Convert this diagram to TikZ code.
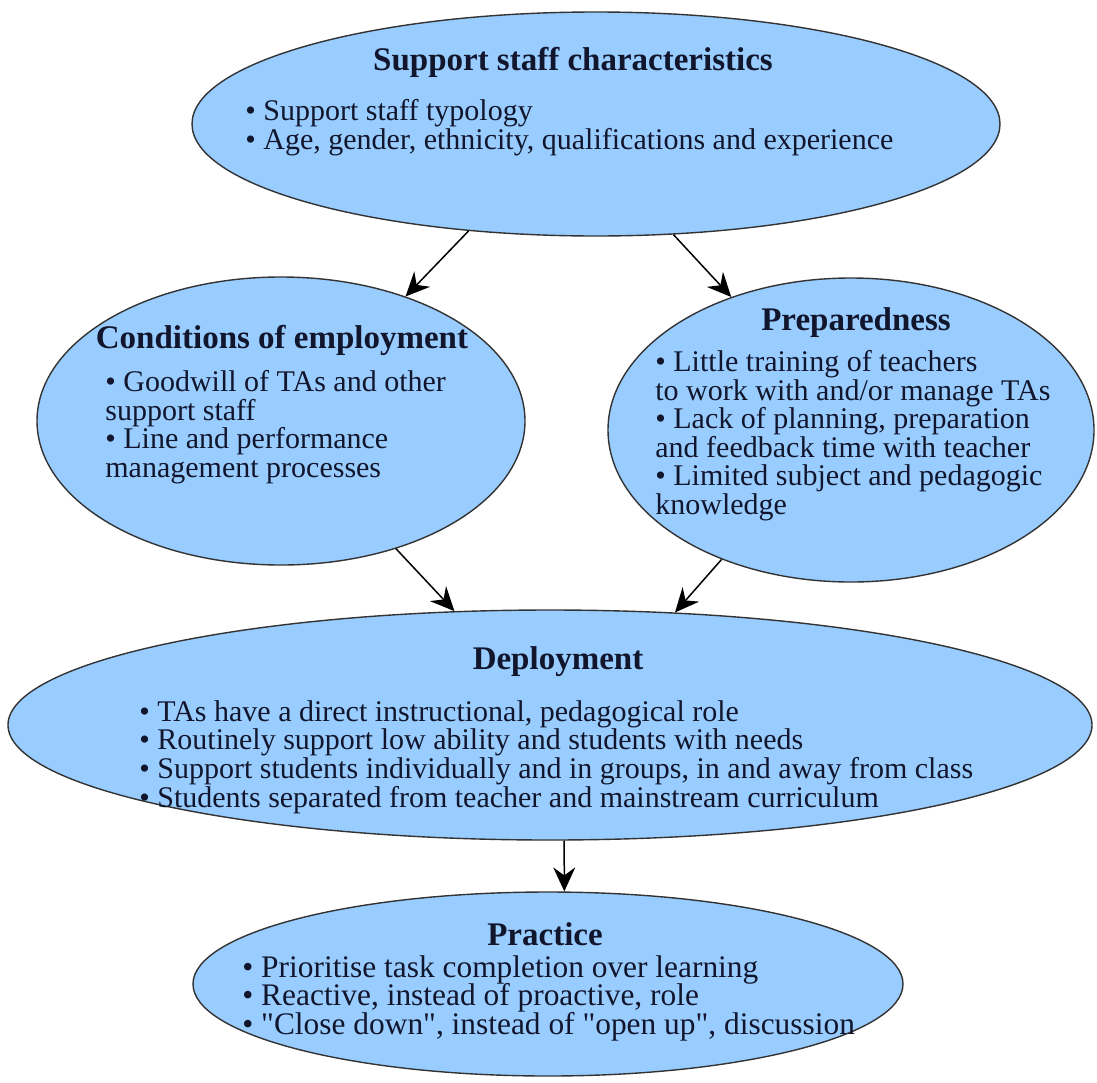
\documentclass[tikz,border=0pt]{standalone}
\usepackage{fontspec}
\setmainfont{Liberation Serif}[Ligatures=TeXOff]
\usetikzlibrary{shapes.geometric,arrows.meta}
\definecolor{blobblue}{RGB}{153,204,255}
\definecolor{inkblue}{RGB}{18,22,45}
\newcommand\listfont[2]{\fontsize{#1}{#2}\selectfont\setlength{\lineskiplimit}{-6pt}}
\tikzstyle{blob} = [ellipse, draw=black!80, line width=0.7pt, fill=blobblue, inner sep=0pt]
\tikzstyle{head} = [font=\fontsize{16.5}{18}\selectfont\bfseries, text=inkblue, anchor=base, inner sep=0pt]
\tikzstyle{items} = [font=\listfont{15}{14.3}, text=inkblue, align=left, anchor=north west, inner sep=0pt]
\tikzstyle{line} = [draw, line width=0.75pt, -{Stealth[length=12pt,width=11pt,inset=4pt]}]

\begin{document}
\begin{tikzpicture}[x=0.5pt, y=-0.5pt]
 \useasboundingbox (0,0) rectangle (1097,1082);
 % the five ellipses
 \node [blob, minimum width=404pt, minimum height=112pt] (staff) at (596,124) {};
 \node [blob, minimum width=244pt, minimum height=144pt] (employ) at (281,421) {};
 \node [blob, minimum width=243pt, minimum height=152pt] (prepare) at (851,430) {};
 \node [blob, minimum width=542pt, minimum height=115pt] (deploy) at (550,725) {};
 \node [blob, minimum width=355pt, minimum height=92pt] (practice) at (548,984) {};
 % headings
 \node [head] (staffHead) at (573,70) {Support staff characteristics};
 \node [head] (employHead) at (282,348) {Conditions of employment};
 \node [head] (prepareHead) at (856,330) {Preparedness};
 \node [head] (deployHead) at (558,669) {Deployment};
 \node [head] (practiceHead) at (545,945) {Practice};
 % bullet lists
 \node [items] (staffText) at (245,99) {\textbullet{} Support staff typology\\
   \textbullet{} Age, gender, ethnicity, qualifications and experience};
 \node [items] (employText) at (105,370) {\textbullet{} Goodwill of TAs and other\\
   support staff\\
   \textbullet{} Line and performance\\
   management processes};
 \node [items] (prepareText) at (655,350) {\textbullet{} Little training of teachers\\
   to work with and/or manage TAs\\
   \textbullet{} Lack of planning, preparation\\
   and feedback time with teacher\\
   \textbullet{} Limited subject and pedagogic\\
   knowledge};
 \node [items] (deployText) at (139,700) {\textbullet{} TAs have a direct instructional, pedagogical role\\
   \textbullet{} Routinely support low ability and students with needs\\
   \textbullet{} Support students individually and in groups, in and away from class\\
   \textbullet{} Students separated from teacher and mainstream curriculum};
 \node [items, font=\listfont{15.7}{14.3}] (practiceText) at (242,955) {\textbullet{} Prioritise task completion over learning\\
   \textbullet{} Reactive, instead of proactive, role\\
   \textbullet{} "Close down", instead of "open up", discussion};
 % arrows
 \path [line] (staff.220.2) -- (employ.45);
 \path [line] (staff.305.2) -- (prepare.132);
 \path [line] (employ.312) -- (deploy.130.2);
 \path [line] (prepare.225.9) -- (deploy.42.4);
 \path [line] (deploy.277) -- (practice.80.1);
\end{tikzpicture}
\end{document}
